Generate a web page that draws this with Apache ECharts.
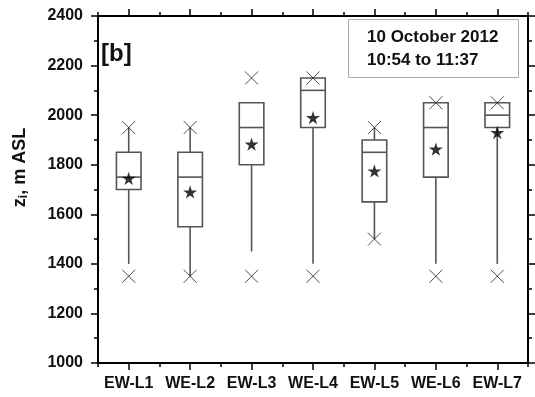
<!DOCTYPE html>
<html>
<head>
<meta charset="utf-8">
<script src="https://cdn.jsdelivr.net/npm/echarts@6/dist/echarts.min.js"></script>
<style>html,body{margin:0;padding:0;background:#fff}#c{width:535px;height:397px}</style>
</head>
<body>
<div id="c"></div>
<script>
const categories = ['EW-L1','WE-L2','EW-L3','WE-L4','EW-L5','WE-L6','EW-L7'];
const whiskerLow  = [1400,1350,1450,1400,1500,1400,1400];
const q1          = [1700,1550,1800,1950,1650,1750,1950];
const median      = [1750,1750,1950,2100,1850,1950,2000];
const q3          = [1850,1850,2050,2150,1900,2050,2050];
const whiskerHigh = [1950,1950,2050,2150,1950,2050,2050];
const meanVals    = [1745,1690,1883,1990,1775,1863,1930];
const minMarks    = [1350,1350,1350,1350,1500,1350,1350];
const maxMarks    = [1950,1950,2150,2150,1950,2050,2050];
const yTicks = {min:1000, max:2400, interval:200};

const FONT = 'Liberation Sans, Arial, sans-serif';
const boxData = categories.map((c,i)=>[i, whiskerLow[i], q1[i], median[i], q3[i], whiskerHigh[i]]);
const starPath = 'path://M50,0 L61,35 L98,35 L68,57 L79,91 L50,70 L21,91 L32,57 L2,35 L39,35 Z';
const crossPath = 'path://M0,0 L10,10 M10,0 L0,10';

const chart = echarts.init(document.getElementById('c'));
const baseX = {type:'category', data:categories, gridIndex:0, splitLine:{show:false}};
chart.setOption({
  animation:false,
  backgroundColor:'#fff',
  title:[
    {text:'10 October 2012\n10:54 to 11:37', left:348, top:19,
     padding:[7,20,6,19], borderColor:'#aaa', borderWidth:1,
     textStyle:{fontFamily:FONT, fontWeight:'bold', fontSize:17, lineHeight:23, color:'#111'}},
    {text:'[b]', left:101, top:42, padding:0,
     textStyle:{fontFamily:FONT, fontWeight:'bold', fontSize:24, color:'#111'}}
  ],
  grid:{left:98, right:7, top:16, bottom:34, containLabel:false},
  xAxis:[
    Object.assign({}, baseX, {position:'bottom',
      axisLine:{show:true, lineStyle:{color:'#000', width:2}},
      axisTick:{show:true, alignWithLabel:true, inside:false, length:7, lineStyle:{color:'#000', width:1.5}},
      axisLabel:{show:true, margin:13, fontFamily:FONT, fontWeight:'bold', fontSize:16, color:'#111', interval:0}}),
    Object.assign({}, baseX, {position:'bottom',
      axisLine:{show:false},
      axisTick:{show:true, alignWithLabel:false, inside:false, length:4, lineStyle:{color:'#000', width:1.5}},
      axisLabel:{show:false}}),
    Object.assign({}, baseX, {position:'top',
      axisLine:{show:true, lineStyle:{color:'#000', width:2}},
      axisTick:{show:true, alignWithLabel:true, inside:false, length:7, lineStyle:{color:'#000', width:1.5}},
      axisLabel:{show:false}}),
    Object.assign({}, baseX, {position:'top',
      axisLine:{show:false},
      axisTick:{show:true, alignWithLabel:false, inside:false, length:4, lineStyle:{color:'#000', width:1.5}},
      axisLabel:{show:false}})
  ],
  yAxis:[
    {type:'value', position:'left', min:yTicks.min, max:yTicks.max, interval:yTicks.interval,
     name:'{a|z}{b|i}{a|, m ASL}', nameLocation:'middle', nameGap:68,
     nameTextStyle:{padding:[0,0,0,44], rich:{
       a:{fontFamily:FONT, fontWeight:'bold', fontSize:18, color:'#111'},
       b:{fontFamily:FONT, fontWeight:'bold', fontSize:12, color:'#111', verticalAlign:'bottom', padding:[8,0,0,0]}}},
     axisLine:{show:true, lineStyle:{color:'#000', width:2}},
     axisTick:{show:true, inside:false, length:7, lineStyle:{color:'#000', width:1.5}},
     minorTick:{show:true, splitNumber:2, length:4, lineStyle:{color:'#000', width:1.5}},
     splitLine:{show:false}, minorSplitLine:{show:false},
     axisLabel:{margin:15, fontFamily:FONT, fontWeight:'bold', fontSize:16, color:'#111',
       formatter:function(v){return String(v);}}},
    {type:'value', position:'right', min:yTicks.min, max:yTicks.max, interval:yTicks.interval,
     axisLine:{show:true, lineStyle:{color:'#000', width:2}},
     axisTick:{show:true, inside:false, length:7, lineStyle:{color:'#000', width:1.5}},
     minorTick:{show:true, splitNumber:2, length:4, lineStyle:{color:'#000', width:1.5}},
     splitLine:{show:false}, axisLabel:{show:false}}
  ],
  series:[
    {type:'custom', xAxisIndex:0, yAxisIndex:0, data:boxData,
     encode:{x:0, y:[1,2,3,4,5]},
     renderItem:function(params, api){
       const idx = api.value(0);
       const pLow = api.coord([idx, api.value(1)]);
       const pQ1 = api.coord([idx, api.value(2)]);
       const pMed = api.coord([idx, api.value(3)]);
       const pQ3 = api.coord([idx, api.value(4)]);
       const pHigh = api.coord([idx, api.value(5)]);
       const hw = api.size([1,0])[0]*0.2;
       const st = {stroke:'#555', lineWidth:1.6, fill:null};
       return {type:'group', children:[
         {type:'line', shape:{x1:pLow[0], y1:pLow[1], x2:pQ1[0], y2:pQ1[1]}, style:st},
         {type:'line', shape:{x1:pQ3[0], y1:pQ3[1], x2:pHigh[0], y2:pHigh[1]}, style:st},
         {type:'rect', shape:{x:pQ3[0]-hw, y:pQ3[1], width:hw*2, height:pQ1[1]-pQ3[1]}, style:{stroke:'#555', lineWidth:1.6, fill:'#fff'}},
         {type:'line', shape:{x1:pMed[0]-hw, y1:pMed[1], x2:pMed[0]+hw, y2:pMed[1]}, style:st}
       ]};
     }},
    {type:'scatter', xAxisIndex:0, yAxisIndex:0, symbol:crossPath, symbolSize:13,
     itemStyle:{color:'rgba(0,0,0,0)', borderColor:'#222', borderWidth:1},
     data:categories.map((c,i)=>[i, minMarks[i]]), z:5},
    {type:'scatter', xAxisIndex:0, yAxisIndex:0, symbol:crossPath, symbolSize:13,
     itemStyle:{color:'rgba(0,0,0,0)', borderColor:'#222', borderWidth:1},
     data:categories.map((c,i)=>[i, maxMarks[i]]), z:5},
    {type:'scatter', xAxisIndex:0, yAxisIndex:0, symbol:starPath, symbolSize:14, symbolKeepAspect:true,
     itemStyle:{color:'#000'},
     data:categories.map((c,i)=>[i, meanVals[i]]), z:6}
  ]
});
</script>
</body>
</html>
